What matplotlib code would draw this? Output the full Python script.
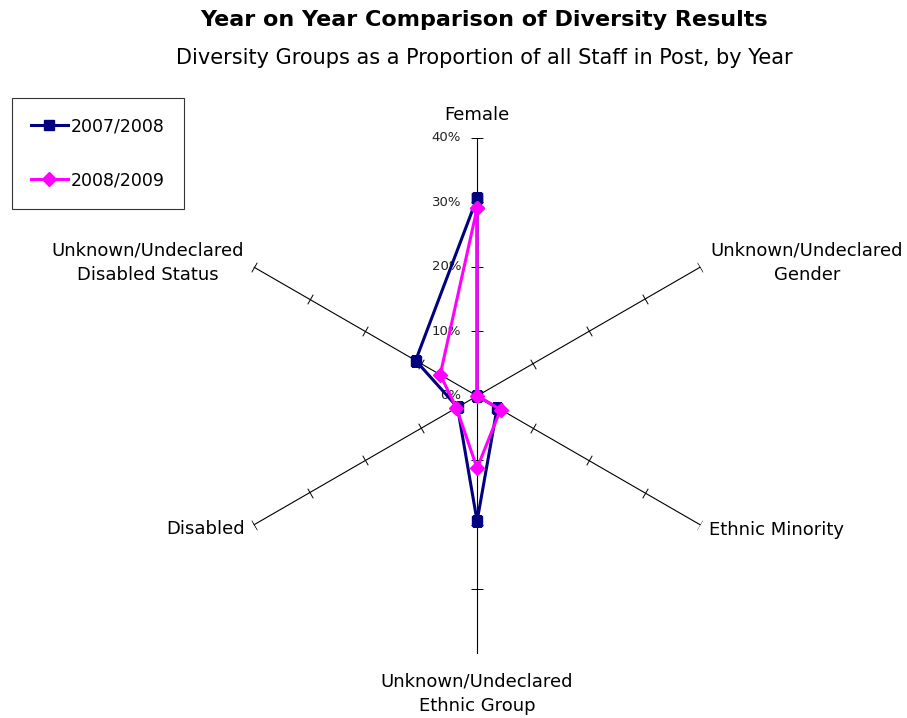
import numpy as np
import matplotlib
matplotlib.use('Agg')
import matplotlib.pyplot as plt

plt.rcParams['font.family'] = ['DejaVu Sans']

categories = ['Female', 'Unknown/Undeclared\nGender', 'Ethnic Minority',
              'Unknown/Undeclared\nEthnic Group', 'Disabled',
              'Unknown/Undeclared\nDisabled Status']
y0708 = [30.7, 0.0, 3.6, 19.4, 3.5, 11.0]
y0809 = [29.1, 0.0, 4.2, 11.2, 3.7, 6.6]
ticks = [0, 10, 20, 30, 40]
tick_labels = ['0%', '10%', '20%', '30%', '40%']

n = len(categories)
theta = np.linspace(0, 2 * np.pi, n, endpoint=False)

fig = plt.figure(figsize=(9.07, 7.18), dpi=100)
ax = fig.add_axes([0.2415, 0.0892, 0.569, 0.7186], projection='polar')
ax.set_theta_zero_location('N')
ax.set_theta_direction(-1)
ax.set_ylim(0, 40)
ax.set_axis_off()

# spokes with small cross ticks
for th in theta:
    ax.plot([th, th], [0, 40], color='black', lw=0.8, zorder=1)
    ang = 90 - np.degrees(th)
    ax.plot([th] * 4, ticks[1:], ls='none', marker=(2, 0, ang),
            ms=8, mew=0.7, color='black', zorder=1)

for t, lab in zip(ticks, tick_labels):
    ax.annotate(lab, xy=(0, t), xytext=(-16, 0), textcoords='offset pixels',
                ha='right', va='center', fontsize=9.5, color='#222222')

# category labels
offsets = [((0, 18), 'center', 'baseline'),
           ((10, 4), 'left', 'center'),
           ((9, -5), 'left', 'center'),
           ((0, -40), 'center', 'center'),
           ((-9, -4), 'right', 'center'),
           ((-10, 4), 'right', 'center')]
for th, lab, (off, ha, va) in zip(theta, categories, offsets):
    ax.annotate(lab, xy=(th, 40), xytext=off, textcoords='offset pixels',
                ha=ha, va=va, multialignment='center', fontsize=13,
                linespacing=1.5, annotation_clip=False)

tt = np.append(theta, theta[0])
ax.plot(tt, y0708 + y0708[:1], color='#000080', lw=2.2, marker='s', ms=6.5,
        label='2007/2008', zorder=3)
ax.plot(tt, y0809 + y0809[:1], color='#FF00FF', lw=2.2, marker='D', ms=7.5,
        label='2008/2009', zorder=4)

leg = fig.legend(loc='upper left', bbox_to_anchor=(12 / 907, 1 - 98 / 718),
                 fontsize=12.5, frameon=True, fancybox=False, edgecolor='black',
                 borderpad=1.1, labelspacing=2.1, handlelength=2.1,
                 handletextpad=0.17, borderaxespad=0)
leg.get_frame().set_linewidth(0.8)

fig.text(0.534, 1 - 20 / 718, 'Year on Year Comparison of Diversity Results',
         ha='center', va='center', fontsize=16, fontweight='bold')
fig.text(0.534, 1 - 58 / 718,
         'Diversity Groups as a Proportion of all Staff in Post, by Year',
         ha='center', va='center', fontsize=15)

fig.savefig('out.png', dpi=100)
